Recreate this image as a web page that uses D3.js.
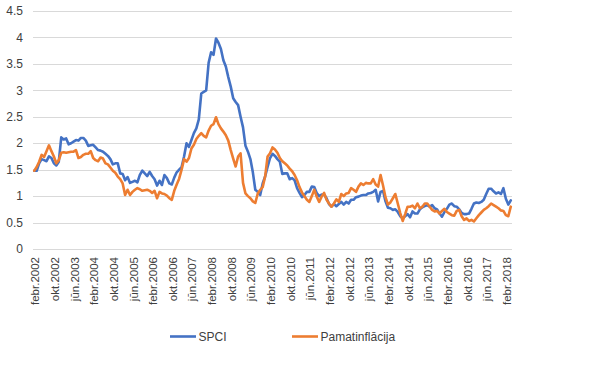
<!DOCTYPE html>
<html><head><meta charset="utf-8">
<script src="https://cdn.jsdelivr.net/npm/d3@7"></script>
<style>body{margin:0;background:#fff}svg{display:block}text{font-family:"Liberation Sans",Arial,sans-serif;fill:#404040}</style>
</head><body><svg id="c" width="616" height="367"></svg>
<script>
const monthNames = ["janv.","febr.","marts","apr.","maijs","jūn.","jūl.","aug.","sept.","okt.","nov.","dec."];
// monthly categories from febr.2002 to apr.2018
const categories = [];
for (let k = 0; k < 195; k++) { const m = 1 + k; categories.push(monthNames[m % 12] + (2002 + Math.floor(m / 12))); }
const tickLabels = ["febr.2002","okt.2002","jūn.2003","febr.2004","okt.2004","jūn.2005","febr.2006","okt.2006","jūn.2007","febr.2008","okt.2008","jūn.2009","febr.2010","okt.2010","jūn.2011","febr.2012","okt.2012","jūn.2013","febr.2014","okt.2014","jūn.2015","febr.2016","okt.2016","jūn.2017","febr.2018"];
const yTicks = [0,0.5,1,1.5,2,2.5,3,3.5,4,4.5];
const seriesNames = ["SPCI","Pamatinflācija"];
const spci = [
1.48,1.48,1.62,1.70,1.68,1.66,1.75,1.72,1.62,1.58,1.65,2.11,2.07,2.09,1.98,2.00,2.03,2.06,2.05,2.10,2.10,2.05,1.95,1.96,1.97,1.92,1.87,
1.86,1.84,1.80,1.76,1.70,1.60,1.62,1.62,1.43,1.42,1.30,1.36,1.25,1.27,1.29,1.26,1.40,1.48,1.43,1.38,1.46,1.38,1.32,1.20,1.29,1.21,1.40,1.34,1.24,
1.22,1.35,1.45,1.50,1.55,1.75,2.00,1.93,2.06,2.19,2.28,2.45,2.94,2.97,3.00,3.52,3.72,3.67,3.98,3.90,3.78,3.57,3.45,3.25,3.07,2.85,2.78,2.72,2.50,
2.30,1.95,1.84,1.70,1.45,1.12,1.08,1.02,1.24,1.37,1.55,1.72,1.80,1.76,1.70,1.65,1.42,1.43,1.43,1.32,1.34,1.30,1.15,1.06,0.98,1.02,1.08,1.08,
1.18,1.17,1.06,1.00,1.03,1.03,0.96,0.85,0.80,0.85,0.81,0.85,0.89,0.84,0.89,0.86,0.93,0.93,0.98,0.99,1.01,1.02,1.02,1.05,1.06,1.08,1.12,
0.90,1.08,1.10,0.90,0.78,0.77,0.74,0.75,0.70,0.62,0.58,0.62,0.66,0.60,0.71,0.67,0.67,0.75,0.79,0.81,0.83,0.80,0.83,0.77,0.75,0.67,0.61,0.70,0.76,0.84,
0.86,0.81,0.80,0.75,0.68,0.66,0.66,0.67,0.76,0.86,0.88,0.87,0.89,0.93,1.04,1.14,1.14,1.09,1.05,1.07,1.04,1.15,0.95,0.84,0.92];
const pamat = [
1.48,1.55,1.65,1.78,1.74,1.85,1.96,1.85,1.75,1.62,1.68,1.82,1.83,1.82,1.83,1.84,1.84,1.87,1.72,1.74,1.78,1.80,1.80,1.85,1.72,1.68,1.66,
1.73,1.71,1.62,1.60,1.54,1.48,1.44,1.37,1.32,1.24,1.02,1.12,1.02,1.08,1.12,1.15,1.13,1.10,1.11,1.12,1.10,1.06,1.10,0.96,1.08,1.05,1.04,1.01,0.96,
0.93,1.10,1.22,1.33,1.50,1.70,1.65,1.72,1.90,1.97,2.08,2.14,2.19,2.14,2.11,2.24,2.33,2.36,2.49,2.36,2.28,2.22,2.15,2.05,1.87,1.71,1.56,1.75,1.81,
1.25,1.05,1.00,0.96,0.90,0.87,1.05,1.12,1.17,1.37,1.75,1.81,1.92,1.88,1.82,1.72,1.66,1.62,1.58,1.52,1.47,1.40,1.30,1.17,1.07,1.00,0.93,0.89,
1.00,1.12,0.99,0.89,0.99,1.06,0.93,0.86,0.80,0.86,0.94,0.89,1.04,1.00,1.05,1.06,1.15,1.12,1.08,1.18,1.24,1.21,1.25,1.24,1.24,1.32,1.22,
1.18,1.40,1.20,0.98,0.84,0.88,0.96,1.04,0.86,0.68,0.53,0.66,0.80,0.80,0.82,0.77,0.86,0.77,0.80,0.86,0.86,0.80,0.74,0.71,0.72,0.67,0.72,0.76,0.70,0.67,
0.64,0.63,0.72,0.74,0.62,0.55,0.58,0.53,0.55,0.52,0.58,0.64,0.69,0.74,0.77,0.81,0.86,0.83,0.80,0.77,0.73,0.72,0.64,0.62,0.80];
const colors = ["#4472C4","#ED7D31"];

const svg = d3.select("#c");
const x = d3.scaleBand().domain(categories).range([33, 512]);
const y = d3.scaleLinear().domain([0, 4.5]).range([249, 11]);
const cx = c => x(c) + x.bandwidth() / 2;

// gridlines
svg.append("g").selectAll("line").data(yTicks).join("line")
  .attr("x1", 33).attr("x2", 512)
  .attr("y1", d => Math.round(y(d)) + 0.5).attr("y2", d => Math.round(y(d)) + 0.5)
  .attr("stroke", "#d9d9d9").attr("stroke-width", 1);

// y labels
svg.append("g").selectAll("text").data(yTicks).join("text")
  .attr("x", 23).attr("y", d => y(d)).attr("dy", "0.35em")
  .attr("text-anchor", "end").attr("font-size", 12)
  .text(d => d3.format("")(d));

// x labels
const tickIdx = tickLabels.map(t => categories.indexOf(t));
svg.append("g").selectAll("text").data(tickLabels).join("text")
  .attr("transform", d => `translate(${cx(d) + 1},257) rotate(-90)`)
  .attr("dy", "0.35em").attr("text-anchor", "end").attr("font-size", 11.5)
  .text(d => d);

// lines
const line = d3.line().x((d, i) => cx(categories[i])).y(d => y(d));
[spci, pamat].forEach((s, k) => {
  svg.append("path").datum(s).attr("d", line)
    .attr("fill", "none").attr("stroke", colors[k]).attr("stroke-width", 2.6)
    .attr("stroke-linejoin", "round").attr("stroke-linecap", "round");
});

// legend
const leg = [{n: seriesNames[0], x: 170}, {n: seriesNames[1], x: 292}];
leg.forEach((l, k) => {
  svg.append("line").attr("x1", l.x).attr("x2", l.x + 26).attr("y1", 336.5).attr("y2", 336.5)
    .attr("stroke", colors[k]).attr("stroke-width", 2.6);
  svg.append("text").attr("x", l.x + 28.5).attr("y", 336.5).attr("dy", "0.35em")
    .attr("font-size", 12).text(l.n);
});
</script></body></html>
